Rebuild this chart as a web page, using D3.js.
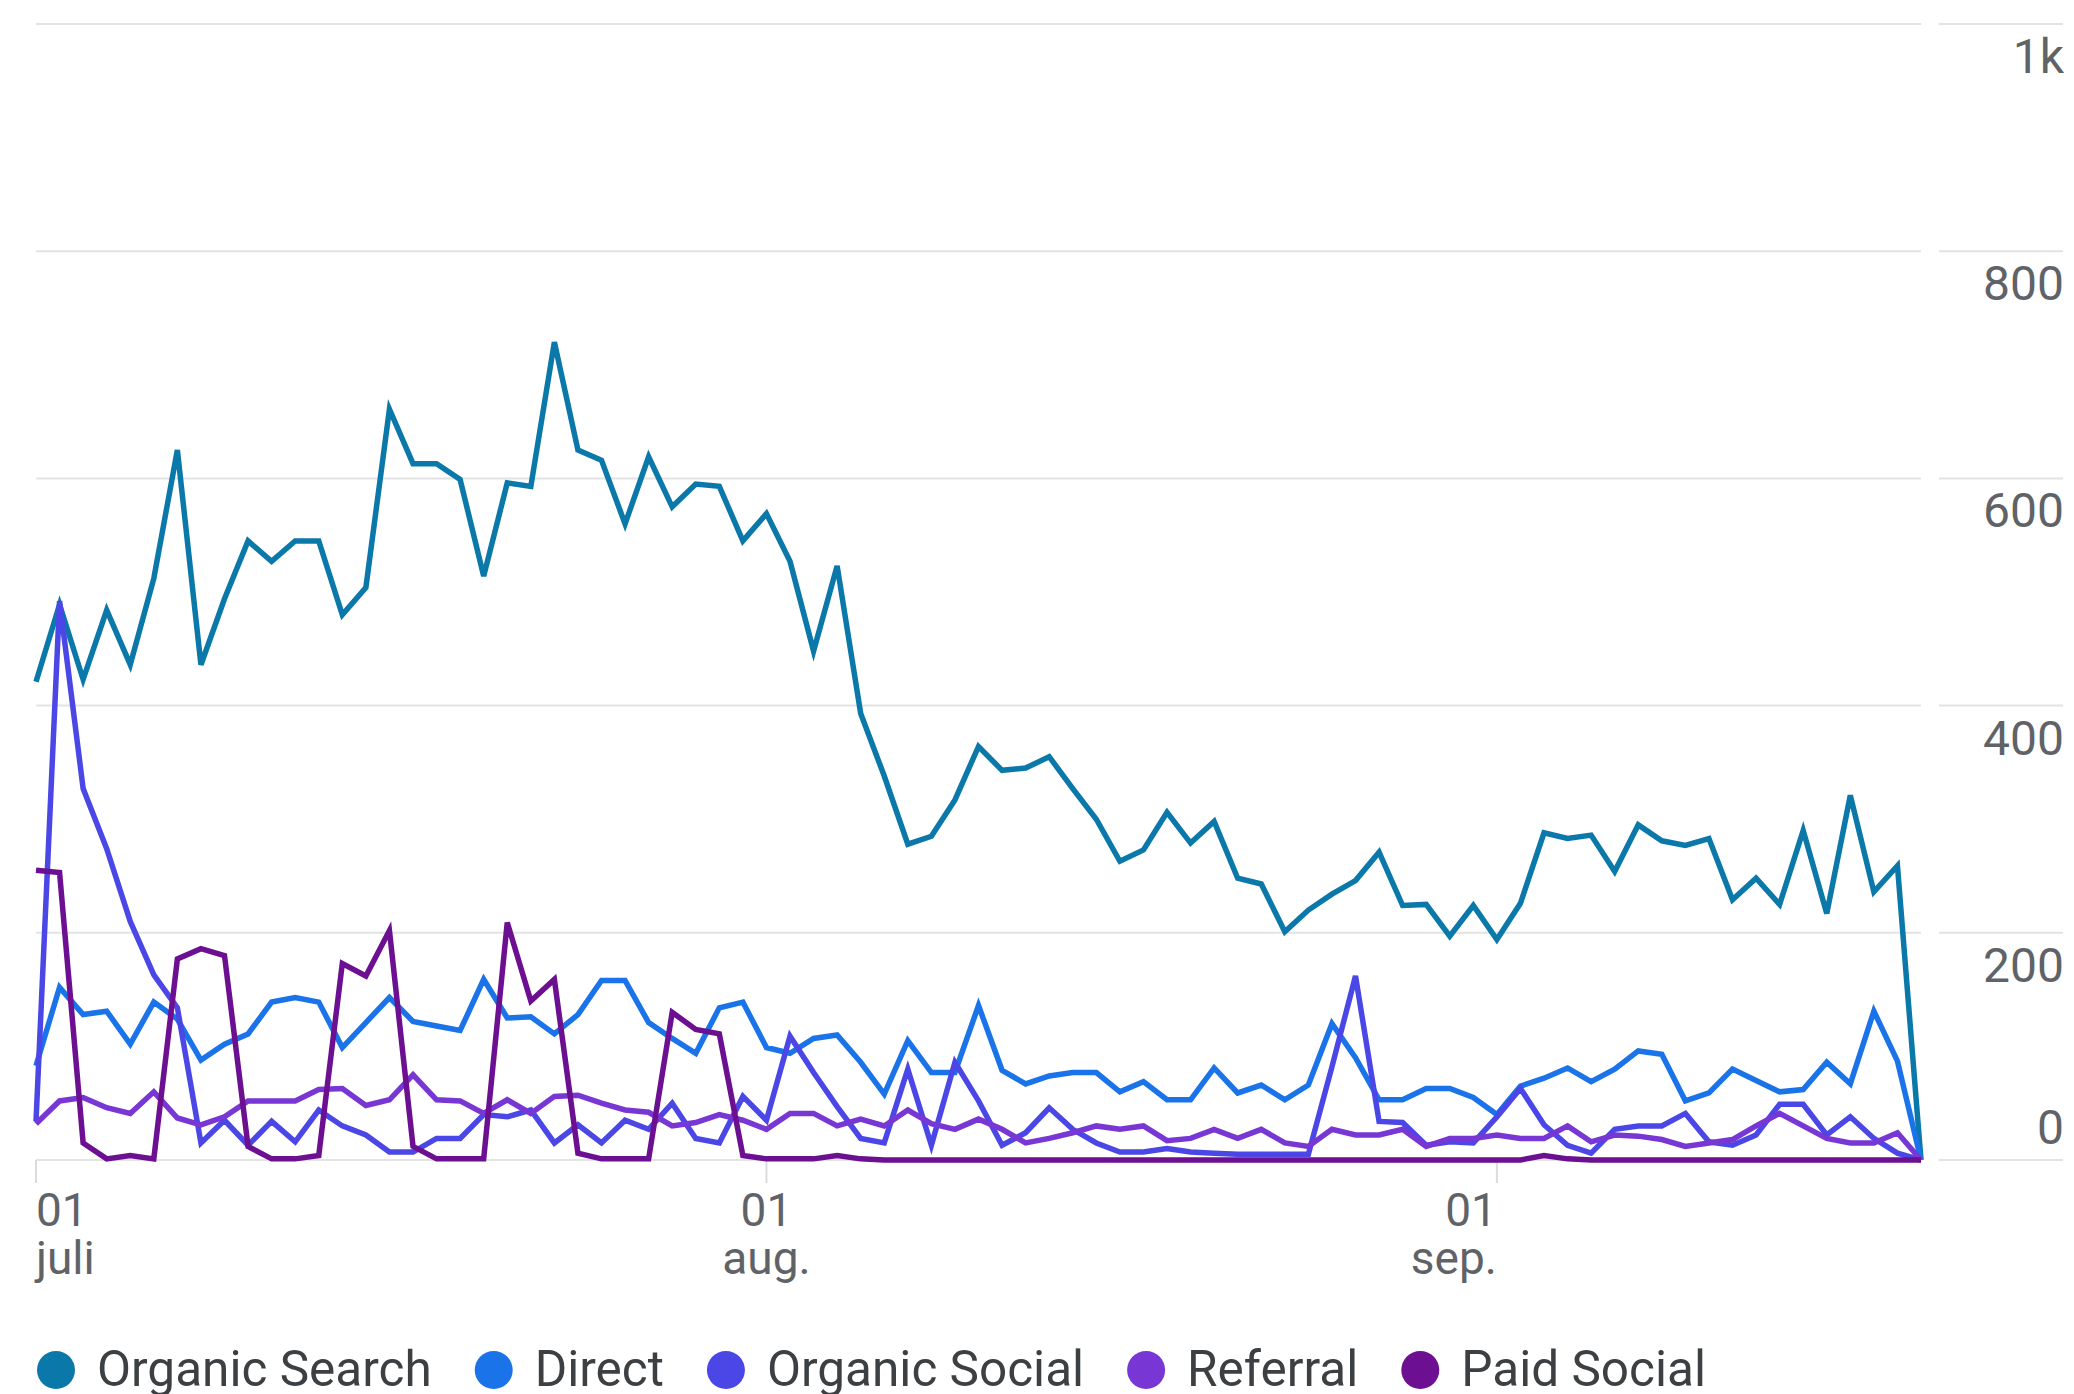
<!DOCTYPE html>
<html>
<head>
<meta charset="utf-8">
<script src="https://cdn.jsdelivr.net/npm/d3@7"></script>
<style>
  body { margin: 0; background: #fff; }
  svg { display: block; font-family: Roboto, "Noto Sans", sans-serif; }
</style>
</head>
<body>
<svg id="chart" width="2074" height="1394"></svg>
<script>
// daily points, 1 juli - 19 sep.
const startDate = new Date(2023, 6, 1);
const endDate = new Date(2023, 8, 19);
const dates = d3.timeDay.range(startDate, d3.timeDay.offset(endDate, 1));

const seriesNames = ["Organic Search", "Direct", "Organic Social", "Referral", "Paid Social"];
const seriesColors = ["#0b78aa", "#1a73e8", "#4b46e6", "#7836d4", "#6c0f91"];

const organicSearch = [
  421, 489, 423, 484, 436, 512, 625, 436, 494, 545, 527, 545, 545, 480, 504, 661, 613, 613, 599, 514,
  596, 593, 720, 625, 616, 560, 619, 575, 595, 593, 545, 569, 527, 448, 523, 393, 338, 278, 285, 317,
  364, 343, 345, 355, 327, 300, 263, 273, 306, 279, 298, 248, 243, 201, 220, 234, 246, 271, 224, 225,
  197, 224, 194, 226, 288, 283, 286, 254, 295, 281, 277, 283, 229, 248, 225, 290, 217, 321, 236, 259,
  0
];
const direct = [
  83, 152, 128, 131, 102, 139, 124, 88, 102, 111, 139, 143, 139, 99, 121, 143, 122, 118, 114, 159,
  125, 126, 111, 128, 158, 158, 121, 107, 94, 134, 139, 99, 94, 107, 110, 86, 58, 105, 77, 77,
  136, 79, 67, 74, 77, 77, 60, 69, 53, 53, 81, 59, 66, 53, 66, 120, 90, 53, 53, 63,
  63, 55, 40, 65, 72, 81, 69, 80, 96, 93, 52, 59, 80, 70, 60, 62, 86, 67, 131, 87,
  0
];
const organicSocial = [
  34, 492, 327, 274, 210, 163, 134, 15, 35, 13, 34, 16, 44, 30, 22, 7, 7, 19, 19, 40,
  38, 44, 15, 31, 15, 35, 27, 50, 19, 15, 56, 35, 109, 77, 47, 19, 15, 80, 13, 86,
  52, 13, 24, 46, 27, 15, 7, 7, 10, 7, 6, 5, 5, 5, 5, 82, 162, 34, 33, 13,
  16, 15, 38, 63, 31, 13, 6, 27, 30, 30, 41, 16, 13, 22, 49, 49, 22, 38, 19, 6,
  0
];
const referral = [
  32, 52, 55, 46, 41, 60, 37, 31, 38, 52, 52, 52, 62, 63, 48, 53, 75, 53, 52, 41,
  53, 41, 56, 57, 50, 44, 42, 30, 33, 40, 35, 27, 41, 41, 30, 36, 30, 44, 32, 27,
  36, 27, 15, 19, 24, 30, 27, 30, 17, 19, 27, 19, 27, 15, 12, 27, 22, 22, 27, 12,
  19, 19, 22, 19, 19, 30, 16, 22, 21, 18, 12, 15, 18, 30, 41, 30, 19, 15, 15, 24,
  0
];
const paidSocial = [
  255, 253, 15, 1, 4, 1, 177, 186, 180, 12, 1, 1, 4, 173, 162, 202, 12, 1, 1, 1,
  209, 140, 159, 6, 1, 1, 1, 130, 115, 111, 4, 1, 1, 1, 4, 1, 0, 0, 0, 0,
  0, 0, 0, 0, 0, 0, 0, 0, 0, 0, 0, 0, 0, 0, 0, 0, 0, 0, 0, 0,
  0, 0, 0, 0, 4, 1, 0, 0, 0, 0, 0, 0, 0, 0, 0, 0, 0, 0, 0, 0,
  0
];
const seriesValues = [organicSearch, direct, organicSocial, referral, paidSocial];

const yTicks = [0, 200, 400, 600, 800, 1000];
const yTickLabels = ["0", "200", "400", "600", "800", "1k"];
const monthTicks = [new Date(2023, 6, 1), new Date(2023, 7, 1), new Date(2023, 8, 1)];
const dayLabels = ["01", "01", "01"];
const monthLabels = ["juli", "aug.", "sep."];

const svg = d3.select("#chart");

const plotLeft = 36, plotRight = 1921;
const plotTop = 24, plotBottom = 1160;

const x = d3.scaleTime()
  .domain([startDate, endDate])
  .range([plotLeft, plotRight]);

const y = d3.scaleLinear()
  .domain([0, 1000])
  .range([plotBottom, plotTop]);

// gridlines in plot area and the short ones next to the labels
const grid = svg.append("g");
grid.selectAll(".grid")
  .data(yTicks)
  .enter()
  .append("line")
  .attr("x1", plotLeft)
  .attr("x2", plotRight)
  .attr("y1", d => y(d))
  .attr("y2", d => y(d))
  .attr("stroke", "#e3e3e3")
  .attr("stroke-width", 2);

grid.selectAll(".grid-right")
  .data(yTicks)
  .enter()
  .append("line")
  .attr("x1", 1939)
  .attr("x2", 2063)
  .attr("y1", d => y(d))
  .attr("y2", d => y(d))
  .attr("stroke", "#e3e3e3")
  .attr("stroke-width", 2);

// right axis labels (0 sits above its line, the rest below)
svg.append("g")
  .selectAll("text")
  .data(yTicks)
  .enter()
  .append("text")
  .attr("x", 2064)
  .attr("y", d => d === 0 ? y(d) - 16 : y(d) + 49)
  .attr("text-anchor", "end")
  .attr("fill", "#5f6368")
  .style("font-size", "48px")
  .text((d, i) => yTickLabels[i]);

// x axis ticks and two-line labels
const xAxis = svg.append("g");
const anchors = ["start", "middle", "end"];

xAxis.selectAll(".tick")
  .data(monthTicks)
  .enter()
  .append("line")
  .attr("x1", d => x(d))
  .attr("x2", d => x(d))
  .attr("y1", plotBottom)
  .attr("y2", plotBottom + 23)
  .attr("stroke", "#dadce0")
  .attr("stroke-width", 2);

const labels = xAxis.selectAll(".xlabel")
  .data(monthTicks)
  .enter()
  .append("text")
  .attr("text-anchor", (d, i) => anchors[i])
  .attr("fill", "#5f6368")
  .style("font-size", "46px");

labels.append("tspan")
  .attr("x", d => x(d))
  .attr("y", 1226)
  .text((d, i) => dayLabels[i]);

labels.append("tspan")
  .attr("x", d => x(d))
  .attr("y", 1274)
  .text((d, i) => monthLabels[i]);

// series lines
const line = d3.line()
  .x((d, i) => x(dates[i]))
  .y(d => y(d));

svg.append("g")
  .selectAll("path")
  .data(seriesValues)
  .enter()
  .append("path")
  .attr("d", line)
  .attr("fill", "none")
  .attr("stroke", (d, i) => seriesColors[i])
  .attr("stroke-width", 5.5);

// legend
const legend = svg.append("g");
let lx = 56;
seriesNames.forEach((name, i) => {
  legend.append("circle")
    .attr("cx", lx)
    .attr("cy", 1370)
    .attr("r", 19)
    .attr("fill", seriesColors[i]);
  const t = legend.append("text")
    .attr("x", lx + 41)
    .attr("y", 1386)
    .attr("fill", "#3c4043")
    .style("font-size", "49.5px")
    .text(name);
  lx = lx + 41 + t.node().getComputedTextLength() + 62;
});
</script>
</body>
</html>
